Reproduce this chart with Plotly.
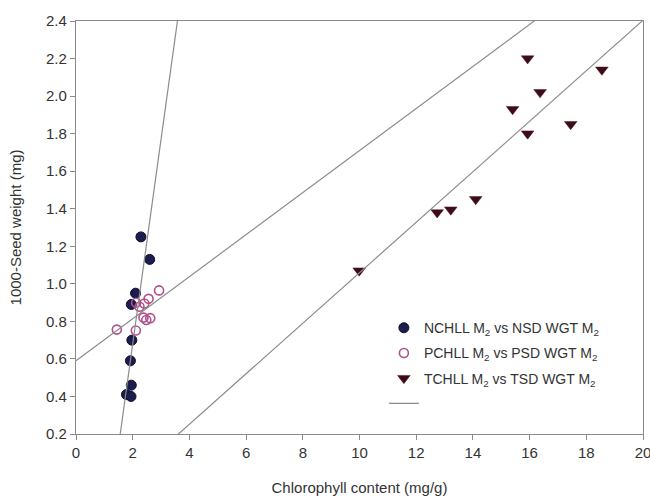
import plotly.graph_objects as go

# ---- data ----
n_chl = [2.29, 2.60, 2.10, 1.95, 1.97, 1.92, 1.95, 1.78, 1.94]
n_wgt = [1.25, 1.13, 0.95, 0.89, 0.70, 0.59, 0.46, 0.41, 0.40]

p_chl = [1.44, 2.11, 2.12, 2.24, 2.41, 2.56, 2.93, 2.38, 2.48, 2.62]
p_wgt = [0.756, 0.751, 0.899, 0.878, 0.895, 0.920, 0.965, 0.820, 0.807, 0.817]

t_chl = [9.99, 12.74, 13.22, 14.10, 15.40, 15.93, 16.37, 15.93, 17.45, 18.55]
t_wgt = [1.07, 1.38, 1.395, 1.45, 1.93, 2.20, 2.02, 1.80, 1.85, 2.14]

# regression lines (slope, intercept) for N, P, T series
fit_slopes = [1.09, 0.112, 0.1345]
fit_intercepts = [-1.50, 0.59, -0.286]

series_names = [
    "NCHLL M<sub>2</sub> vs NSD WGT M<sub>2</sub>",
    "PCHLL M<sub>2</sub> vs PSD WGT M<sub>2</sub>",
    "TCHLL M<sub>2</sub> vs TSD WGT M<sub>2</sub>",
]

x_ticks = list(range(0, 21, 2))
y_ticks = [0.2, 0.4, 0.6, 0.8, 1.0, 1.2, 1.4, 1.6, 1.8, 2.0, 2.2, 2.4]

FONT = "Liberation Sans, Arial, sans-serif"
AXIS_COL = "#8a8a8a"
TEXT_COL = "#333333"

fig = go.Figure()

fig.add_trace(go.Scatter(
    x=n_chl, y=n_wgt, mode="markers", name=series_names[0], legendgroup="a",
    marker=dict(symbol="circle", size=10, color="#1c1c4e",
                line=dict(color="#0e0e2c", width=1)),
))
fig.add_trace(go.Scatter(
    x=p_chl, y=p_wgt, mode="markers", name=series_names[1], legendgroup="b",
    marker=dict(symbol="circle-open", size=9, color="#b0508c",
                line=dict(width=1.6)),
))
fig.add_trace(go.Scatter(
    x=t_chl, y=t_wgt, mode="markers", name=series_names[2], legendgroup="c",
    marker=dict(symbol="triangle-down", size=11, color="#3a0d18",
                line=dict(color="#5a1020", width=0.5)),
))

# regression lines, drawn across the axis range and clipped by the plot area
lx, ly = [], []
x_lo, x_hi = x_ticks[0], x_ticks[-1]
for s, b in zip(fit_slopes, fit_intercepts):
    lx += [x_lo, x_hi, None]
    ly += [s * x_lo + b, s * x_hi + b, None]
fig.add_trace(go.Scatter(
    x=lx, y=ly, mode="lines", name=" ", legendgroup="d",
    line=dict(color="#8c8c8c", width=1.2),
))

axis_common = dict(
    showgrid=False, zeroline=False, showline=True, linecolor=AXIS_COL,
    linewidth=1.2, mirror=True, ticks="outside", ticklen=5,
    tickcolor=AXIS_COL, tickwidth=1.2, automargin=False,
    ticklabeloverflow="allow",
    tickfont=dict(family=FONT, size=15, color=TEXT_COL),
)

fig.update_layout(
    width=650, height=497,
    margin=dict(l=76, r=7, t=21, b=63),
    paper_bgcolor="white", plot_bgcolor="white",
    font=dict(family=FONT, color=TEXT_COL),
    showlegend=True,
    legend=dict(
        x=0.543, y=0.295, xanchor="left", yanchor="top",
        bgcolor="rgba(0,0,0,0)", borderwidth=0,
        font=dict(family=FONT, size=14, color=TEXT_COL),
        traceorder="grouped", tracegroupgap=4,
    ),
    xaxis=dict(
        range=[x_lo, x_hi], tickvals=x_ticks,
        title=dict(text="Chlorophyll content (mg/g)", standoff=22,
                   font=dict(family=FONT, size=15, color=TEXT_COL)),
        **axis_common,
    ),
    yaxis=dict(
        range=[y_ticks[0], y_ticks[-1]], tickvals=y_ticks, tickformat=".1f",
        title=dict(text="1000-Seed weight (mg)", standoff=20,
                   font=dict(family=FONT, size=15, color=TEXT_COL)),
        **axis_common,
    ),
)

# remove the page body's default 8px margin so the figure fills the window
fig.write_html("out.html", config={"displayModeBar": False},
               post_script="document.body.style.margin='0';")
